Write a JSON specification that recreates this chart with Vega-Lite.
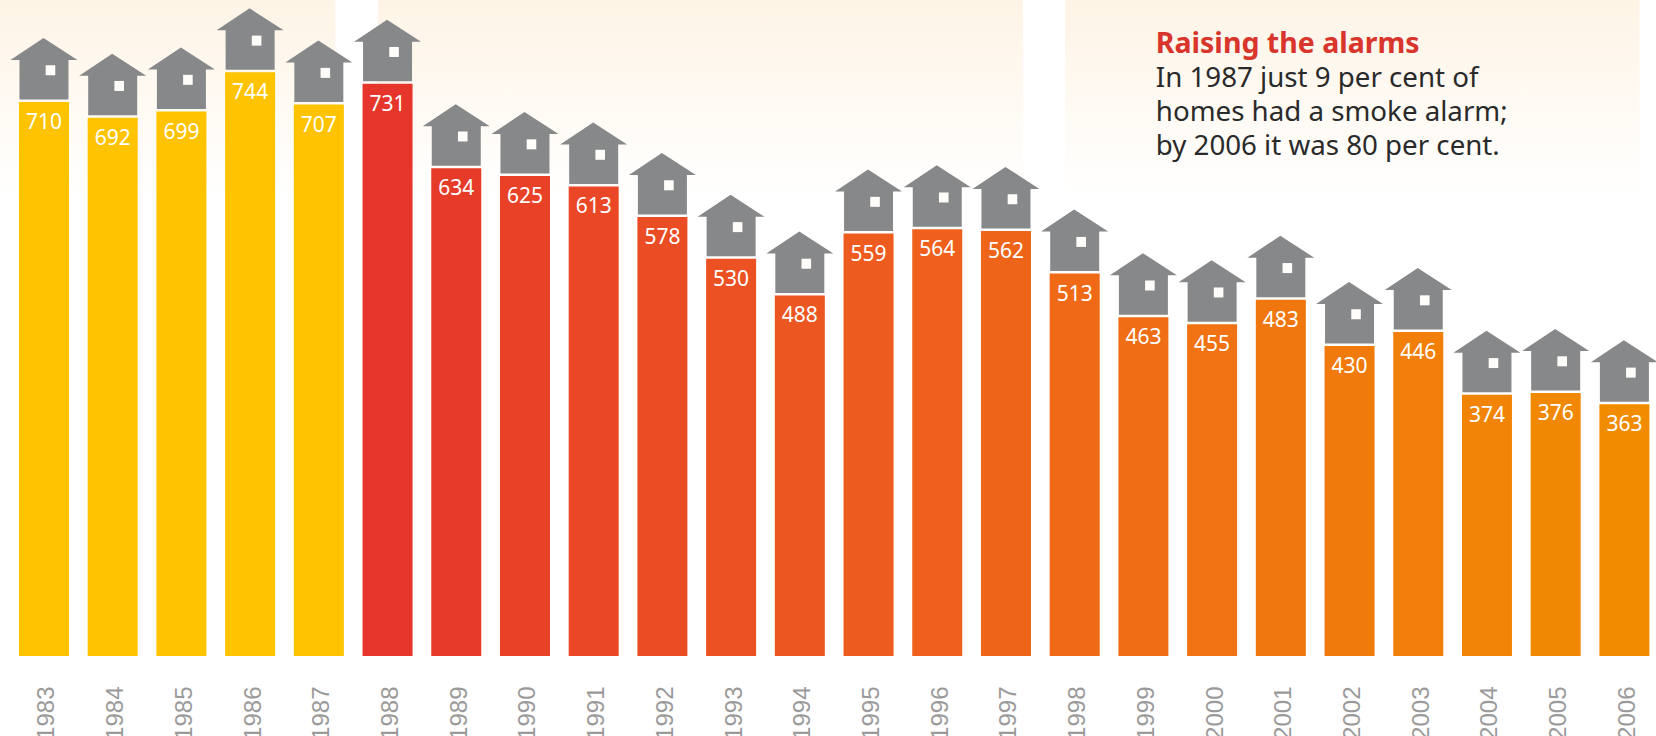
{
"$schema":"https://vega.github.io/schema/vega-lite/v6.json",
"width":1656,"height":656,
"autosize":"none",
"padding":{"left":0,"top":0,"right":0,"bottom":80},
"background":"white",
"view":{"stroke":null},
"datasets":{
"fires":[
{"year":1983,"value":710},{"year":1984,"value":692},{"year":1985,"value":699},{"year":1986,"value":744},{"year":1987,"value":707},{"year":1988,"value":731},{"year":1989,"value":634},{"year":1990,"value":625},{"year":1991,"value":613},{"year":1992,"value":578},{"year":1993,"value":530},{"year":1994,"value":488},{"year":1995,"value":559},{"year":1996,"value":564},{"year":1997,"value":562},{"year":1998,"value":513},{"year":1999,"value":463},{"year":2000,"value":455},{"year":2001,"value":483},{"year":2002,"value":430},{"year":2003,"value":446},{"year":2004,"value":374},{"year":2005,"value":376},{"year":2006,"value":363}],
"panels":[
{"from":1982.36,"to":1987.24,"top":827,"bottom":600},
{"from":1987.86,"to":1997.25,"top":827,"bottom":600},
{"from":1997.86,"to":2006.22,"top":827,"bottom":600}],
"note":[
{"year":1999.18,"value":766,"line":"Raising the alarms","kind":"title"},
{"year":1999.18,"value":727,"line":"In 1987 just 9 per cent of","kind":"body"},
{"year":1999.18,"value":688,"line":"homes had a smoke alarm;","kind":"body"},
{"year":1999.18,"value":649,"line":"by 2006 it was 80 per cent.","kind":"body"}]
},
"layer":[
{"data":{"name":"panels"},
 "mark":{"type":"rect","fill":{"gradient":"linear","x1":0,"y1":0,"x2":0,"y2":1,"stops":[{"offset":0,"color":"#fef4e6"},{"offset":1,"color":"#ffffff"}]}},
 "encoding":{"x":{"field":"from","type":"quantitative"},"x2":{"field":"to"},"y":{"field":"top","type":"quantitative"},"y2":{"field":"bottom"}}},
{"data":{"name":"fires"},
 "mark":{"type":"bar","size":50,"clip":true},
 "encoding":{
  "x":{"field":"year","type":"quantitative"},
  "y":{"field":"value","type":"quantitative"},
  "color":{"field":"year","type":"quantitative","legend":null,"scale":{"domain":[1983,1987,1988,2006],"range":["#ffc300","#ffc300","#e6352b","#f18c00"]}}}},
{"data":{"name":"fires"},
 "mark":{"type":"point","filled":true,"opacity":1,"fill":"#87888a","strokeWidth":0,"size":40000,"shape":"M-0.335,-0.42 L-0.005,-0.64 L0.335,-0.42 L0.245,-0.42 L0.245,-0.025 L-0.245,-0.025 L-0.245,-0.42 Z"},
 "encoding":{"x":{"field":"year","type":"quantitative"},"y":{"field":"value","type":"quantitative"}}},
{"data":{"name":"fires"},
 "mark":{"type":"point","filled":true,"opacity":1,"fill":"#fefdf9","strokeWidth":0,"size":40000,"shape":"M0.017,-0.367 L0.113,-0.367 L0.113,-0.267 L0.017,-0.267 Z"},
 "encoding":{"x":{"field":"year","type":"quantitative"},"y":{"field":"value","type":"quantitative"}}},
{"data":{"name":"fires"},
 "mark":{"type":"text","color":"white","font":"Noto Sans","fontSize":21,"baseline":"alphabetic","dy":27,"align":"center"},
 "encoding":{"x":{"field":"year","type":"quantitative"},"y":{"field":"value","type":"quantitative"},"text":{"field":"value","type":"quantitative"}}},
{"data":{"name":"note"},"transform":[{"filter":"datum.kind==='title'"}],
 "mark":{"type":"text","color":"#d8352c","font":"Noto Sans","fontWeight":"bold","fontSize":28.5,"align":"left","baseline":"alphabetic"},
 "encoding":{"x":{"field":"year","type":"quantitative"},"y":{"field":"value","type":"quantitative"},"text":{"field":"line"}}},
{"data":{"name":"note"},"transform":[{"filter":"datum.kind==='body'"}],
 "mark":{"type":"text","color":"#2a2a2a","font":"Noto Sans","fontSize":27.7,"align":"left","baseline":"alphabetic"},
 "encoding":{"x":{"field":"year","type":"quantitative"},"y":{"field":"value","type":"quantitative"},"text":{"field":"line"}}}
],
"resolve":{"scale":{"color":"independent"}},
"encoding":{
 "x":{"type":"quantitative","scale":{"domain":[1982.36,2006.46],"nice":false,"zero":false,"padding":0},"title":null,
  "axis":{"values":[1983,1984,1985,1986,1987,1988,1989,1990,1991,1992,1993,1994,1995,1996,1997,1998,1999,2000,2001,2002,2003,2004,2005,2006],"format":"d","domain":false,"ticks":false,"grid":false,"labelAngle":-90,"labelFontSize":24,"labelFont":"Liberation Sans","labelColor":"#9a9a9a","labelPadding":30,"labelOffset":3,"labelOverlap":false,"labelFlush":false}},
 "y":{"type":"quantitative","scale":{"domain":[74.2,827],"nice":false,"zero":false},"title":null,"axis":null}
},
"config":{"view":{"stroke":null}}
}
